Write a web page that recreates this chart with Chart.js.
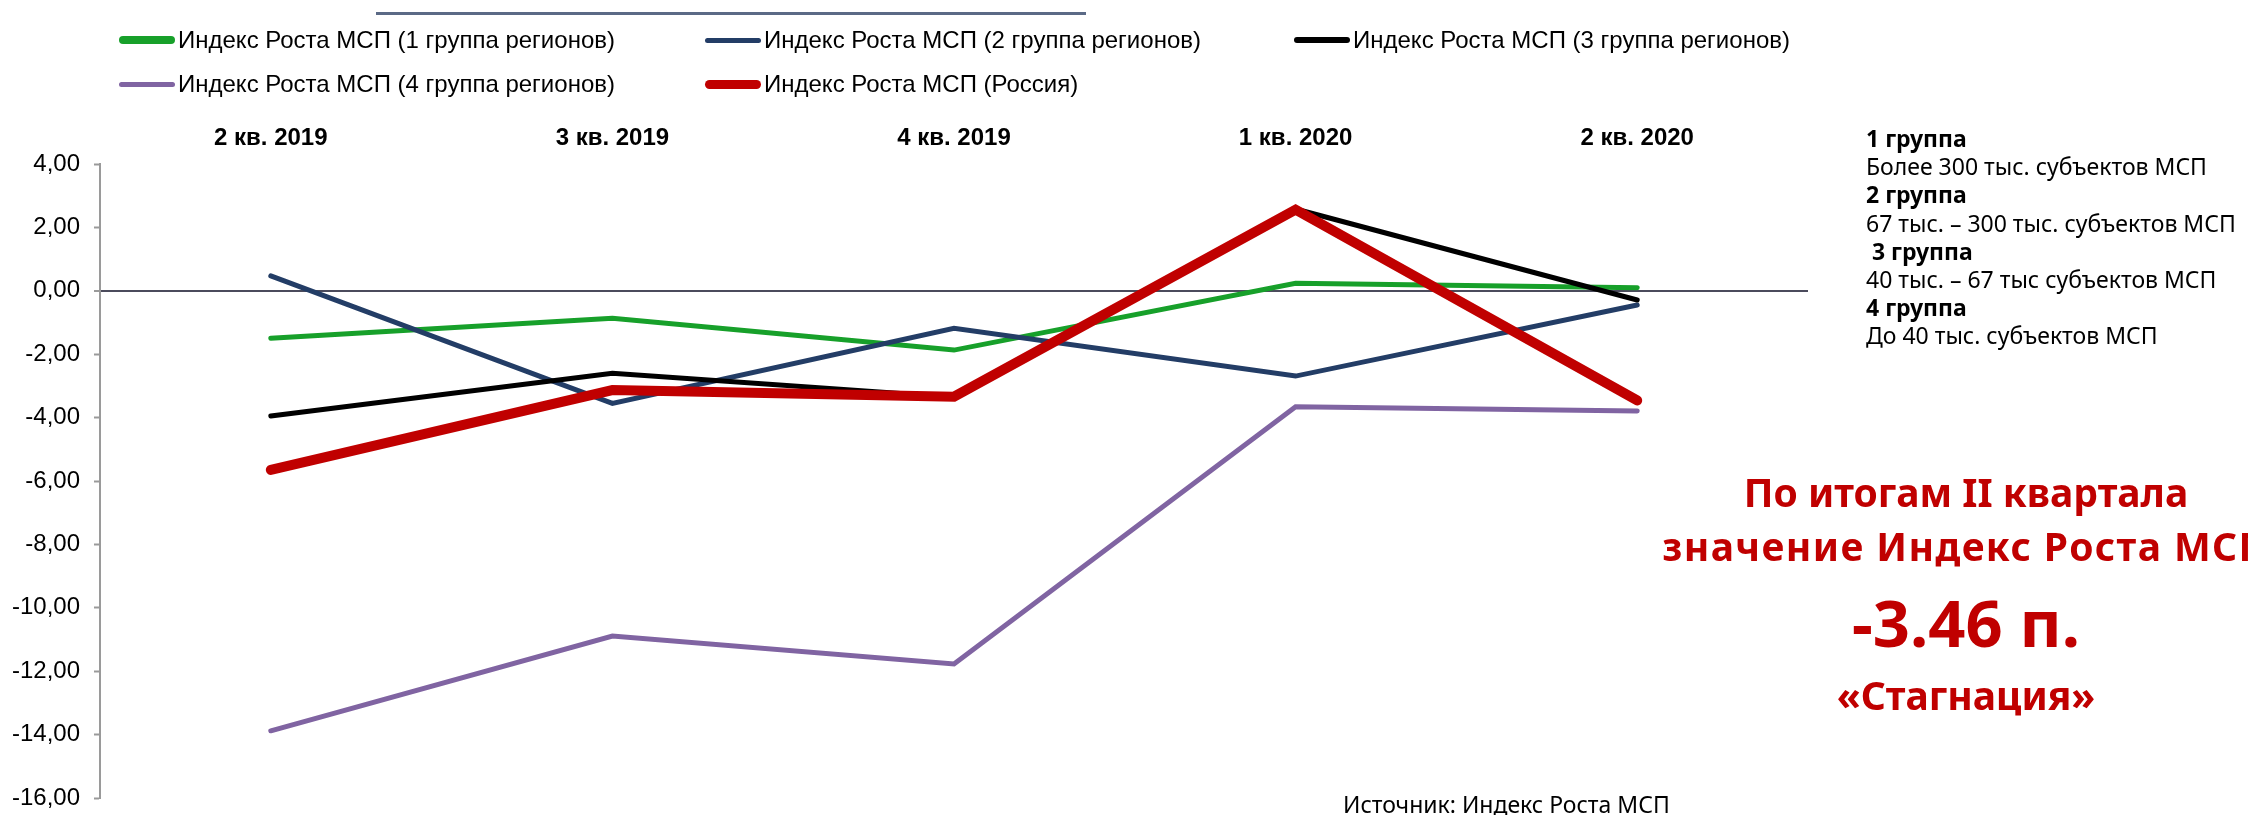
<!DOCTYPE html>
<html lang="ru">
<head>
<meta charset="utf-8">
<script src="https://cdn.jsdelivr.net/npm/chart.js@4/dist/chart.umd.min.js"></script>
<style>
  body { margin: 0; background: #fff; }
  #page { position: relative; width: 2248px; height: 815px; overflow: hidden; background: #fff; }
  #chart { position: absolute; left: 0; top: 0; }
  .topline { position: absolute; left: 376px; top: 12px; width: 710px; height: 3px; background: #5b6a86; }
  .legend-item { position: absolute; display: flex; align-items: center; font: 24px "Liberation Sans", Arial, sans-serif; color: #000; white-space: nowrap; }
  .legend-item .swatch { width: 56px; border-radius: 6px; margin-right: 3px; }
  .note { position: absolute; left: 1866px; top: 124px; font: 23px "Noto Sans", sans-serif; line-height: 28.2px; color: #000; white-space: pre; }
  .note b { font-weight: bold; }
  .verdict { position: absolute; left: 1566px; width: 800px; text-align: center; font-family: "Noto Sans", sans-serif; font-weight: bold; color: #c00000; white-space: nowrap; }
  .source { position: absolute; left: 1343px; top: 788px; font: 23px "Noto Sans", sans-serif; color: #000; white-space: nowrap; }
</style>
</head>
<body>
<div id="page">
  <canvas id="chart" width="2248" height="815"></canvas>
  <div class="topline"></div>
  <div id="legend"></div>
  <div class="note"><b>1 группа</b>
Более 300 тыс. субъектов МСП
<b>2 группа</b>
67 тыс. – 300 тыс. субъектов МСП
<b> 3 группа</b>
40 тыс. – 67 тыс субъектов МСП
<b>4 группа</b>
До 40 тыс. субъектов МСП</div>
  <div class="verdict" style="top:465px;font-size:39px">По итогам II квартала</div>
  <div class="verdict" style="top:519px;font-size:39px;letter-spacing:1.4px">значение Индекс Роста МСП</div>
  <div class="verdict" style="top:578px;font-size:65px">-3.46 п.</div>
  <div class="verdict" style="top:668px;font-size:39px">«Стагнация»</div>
  <div class="source">Источник: Индекс Роста МСП</div>
</div>
<script>
// кварталы и значения индекса
const quarters = ["2 кв. 2019", "3 кв. 2019", "4 кв. 2019", "1 кв. 2020", "2 кв. 2020"];
const group1 = [-1.50, -0.87, -1.87, 0.24, 0.10];
const group2 = [0.47, -3.55, -1.18, -2.69, -0.45];
const group3 = [-3.95, -2.60, -3.36, 2.58, -0.29];
const group4 = [-13.88, -10.89, -11.77, -3.66, -3.79];
const russia = [-5.65, -3.13, -3.34, 2.56, -3.46];
const yTicks = [4, 2, 0, -2, -4, -6, -8, -10, -12, -14, -16];

const seriesNames = [
    "Индекс Роста МСП (1 группа регионов)",
    "Индекс Роста МСП (2 группа регионов)",
    "Индекс Роста МСП (3 группа регионов)",
    "Индекс Роста МСП (4 группа регионов)",
    "Индекс Роста МСП (Россия)"
];
const seriesColors = ["#17a02a", "#233d66", "#000000", "#8064a2", "#c00000"];
const seriesWidths = [5, 5, 5, 5, 10];
const swatchHeights = [8, 5, 6, 5, 9];
const seriesData = [group1, group2, group3, group4, russia];
const drawOrder = [4, 3, 1, 2, 0];

// legend in two rows, three columns
const legendPos = [[119, 40], [705, 40], [1294, 40], [119, 84], [705, 84]];
const legend = document.getElementById("legend");
seriesNames.forEach((name, i) => {
    const item = document.createElement("div");
    item.className = "legend-item";
    item.style.left = legendPos[i][0] + "px";
    item.style.top = (legendPos[i][1] - 14) + "px";
    item.style.height = "28px";
    const sw = document.createElement("span");
    sw.className = "swatch";
    sw.style.height = swatchHeights[i] + "px";
    sw.style.background = seriesColors[i];
    item.appendChild(sw);
    item.appendChild(document.createTextNode(name));
    legend.appendChild(item);
});

const chart = new Chart(document.getElementById("chart"), {
    type: "line",
    data: {
        labels: quarters,
        datasets: seriesNames.map((name, i) => ({
            label: name,
            data: seriesData[i],
            borderColor: seriesColors[i],
            backgroundColor: seriesColors[i],
            borderWidth: seriesWidths[i],
            borderCapStyle: "round",
            pointRadius: 0,
            tension: 0,
            order: drawOrder[i]
        }))
    },
    options: {
        responsive: false,
        devicePixelRatio: 1,
        animation: false,
        layout: { padding: { left: 0, right: 440, top: 0, bottom: 17 } },
        plugins: { legend: { display: false }, tooltip: { enabled: false } },
        scales: {
            x: {
                position: "top",
                offset: true,
                grid: { display: false },
                border: { display: false },
                ticks: {
                    color: "#000",
                    padding: 3,
                    maxRotation: 0,
                    font: { family: "Liberation Sans", size: 24, weight: "bold" }
                },
                afterFit: (scale) => { scale.height = 164; scale.paddingLeft = 0; scale.paddingRight = 0; }
            },
            y: {
                min: -16,
                max: 4,
                afterBuildTicks: (scale) => { scale.ticks = yTicks.map(v => ({ value: v })); },
                grid: {
                    color: (ctx) => ctx.tick && ctx.tick.value === 0 ? "#4b4b5c" : "rgba(0,0,0,0)",
                    lineWidth: (ctx) => ctx.tick && ctx.tick.value === 0 ? 2 : 1,
                    tickColor: "#9a9a9a",
                    tickWidth: 2,
                    tickLength: 6,
                    drawTicks: true
                },
                border: { display: true, color: "#9a9a9a", width: 2 },
                ticks: {
                    color: "#000",
                    padding: 14,
                    font: { family: "Liberation Sans", size: 24 },
                    callback: (v) => v.toFixed(2).replace(".", ",")
                },
                afterFit: (scale) => { scale.width = 100; scale.paddingTop = 0; scale.paddingBottom = 0; }
            }
        }
    }
});
</script>
</body>
</html>
